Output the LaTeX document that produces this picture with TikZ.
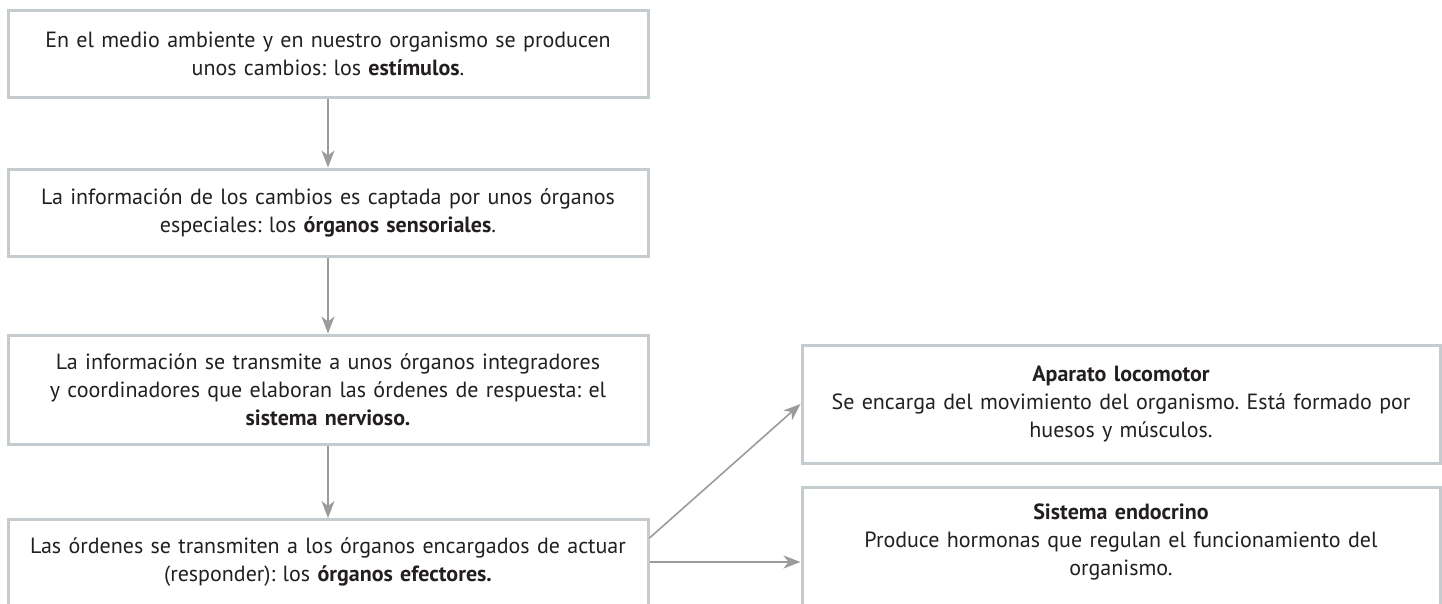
\documentclass[tikz,border=0pt]{standalone}
\usepackage{fontspec}
\setmainfont{PT Sans}
\usetikzlibrary{arrows.meta,calc}
\definecolor{boxline}{HTML}{C4CCD0}
\definecolor{arrowgray}{HTML}{9B9B9B}
\definecolor{ink}{HTML}{231F20}
\frenchspacing

\begin{document}
\begin{tikzpicture}[x=1pt,y=-1pt]

	\def \leftx{328}
	\def \rightx{1121}
	\tikzstyle{f-box}=[draw=boxline,line width=3pt,text=ink,align=center,text width=630pt,minimum width=640pt,inner xsep=5pt,inner ysep=0pt,font=\fontsize{22}{28}\selectfont]
	\tikzstyle{r-box}=[f-box,minimum width=638pt,text width=628pt]
	\tikzstyle{f-arrow}=[draw=arrowgray,line width=1.6pt,-{Stealth[length=17pt,width=13pt,inset=5pt]}]

	\useasboundingbox (0,0) rectangle (1442,603);

	% left column
	\node[f-box,minimum height=87pt] (b1) at (\leftx,53.5) {En el medio ambiente y en nuestro organismo se producen\\unos cambios: los \textbf{estímulos}.};
	\node[f-box,minimum height=87pt] (b2) at (\leftx,212.5) {La información de los cambios es captada por unos órganos\\especiales: los \textbf{órganos sensoriales}.};
	\node[f-box,minimum height=109pt] (b3) at (\leftx,389.5) {La información se transmite a unos órganos integradores\\y coordinadores que elaboran las órdenes de respuesta: el\\\textbf{sistema nervioso.}};
	\node[f-box,anchor=north,inner ysep=18pt,text depth=100pt] (b4) at (\leftx,518) {Las órdenes se transmiten a los órganos encargados de actuar\\(responder): los \textbf{órganos efectores.}};

	% right column
	\node[r-box,minimum height=118pt] (bA) at (\rightx,404) {\textbf{Aparato locomotor}\\Se encarga del movimiento del organismo. Está formado por\\huesos y músculos.};
	\node[r-box,anchor=north,inner ysep=16pt,text depth=100pt] (bB) at (\rightx,486) {\textbf{Sistema endocrino}\\Produce hormonas que regulan el funcionamiento del\\organismo.};

	% arrows
	\draw[f-arrow] (b1.south) -- (b2.north);
	\draw[f-arrow] (b2.south) -- (b3.north);
	\draw[f-arrow] (b3.south) -- (b4.north);
	\draw[f-arrow] ($(b4.north east)+(0,20)$) -- (bA.west);
	\draw[f-arrow] ($(b4.north east)+(0,44)$) -- ($(bB.north west)+(0,76)$);
\end{tikzpicture}
\end{document}
